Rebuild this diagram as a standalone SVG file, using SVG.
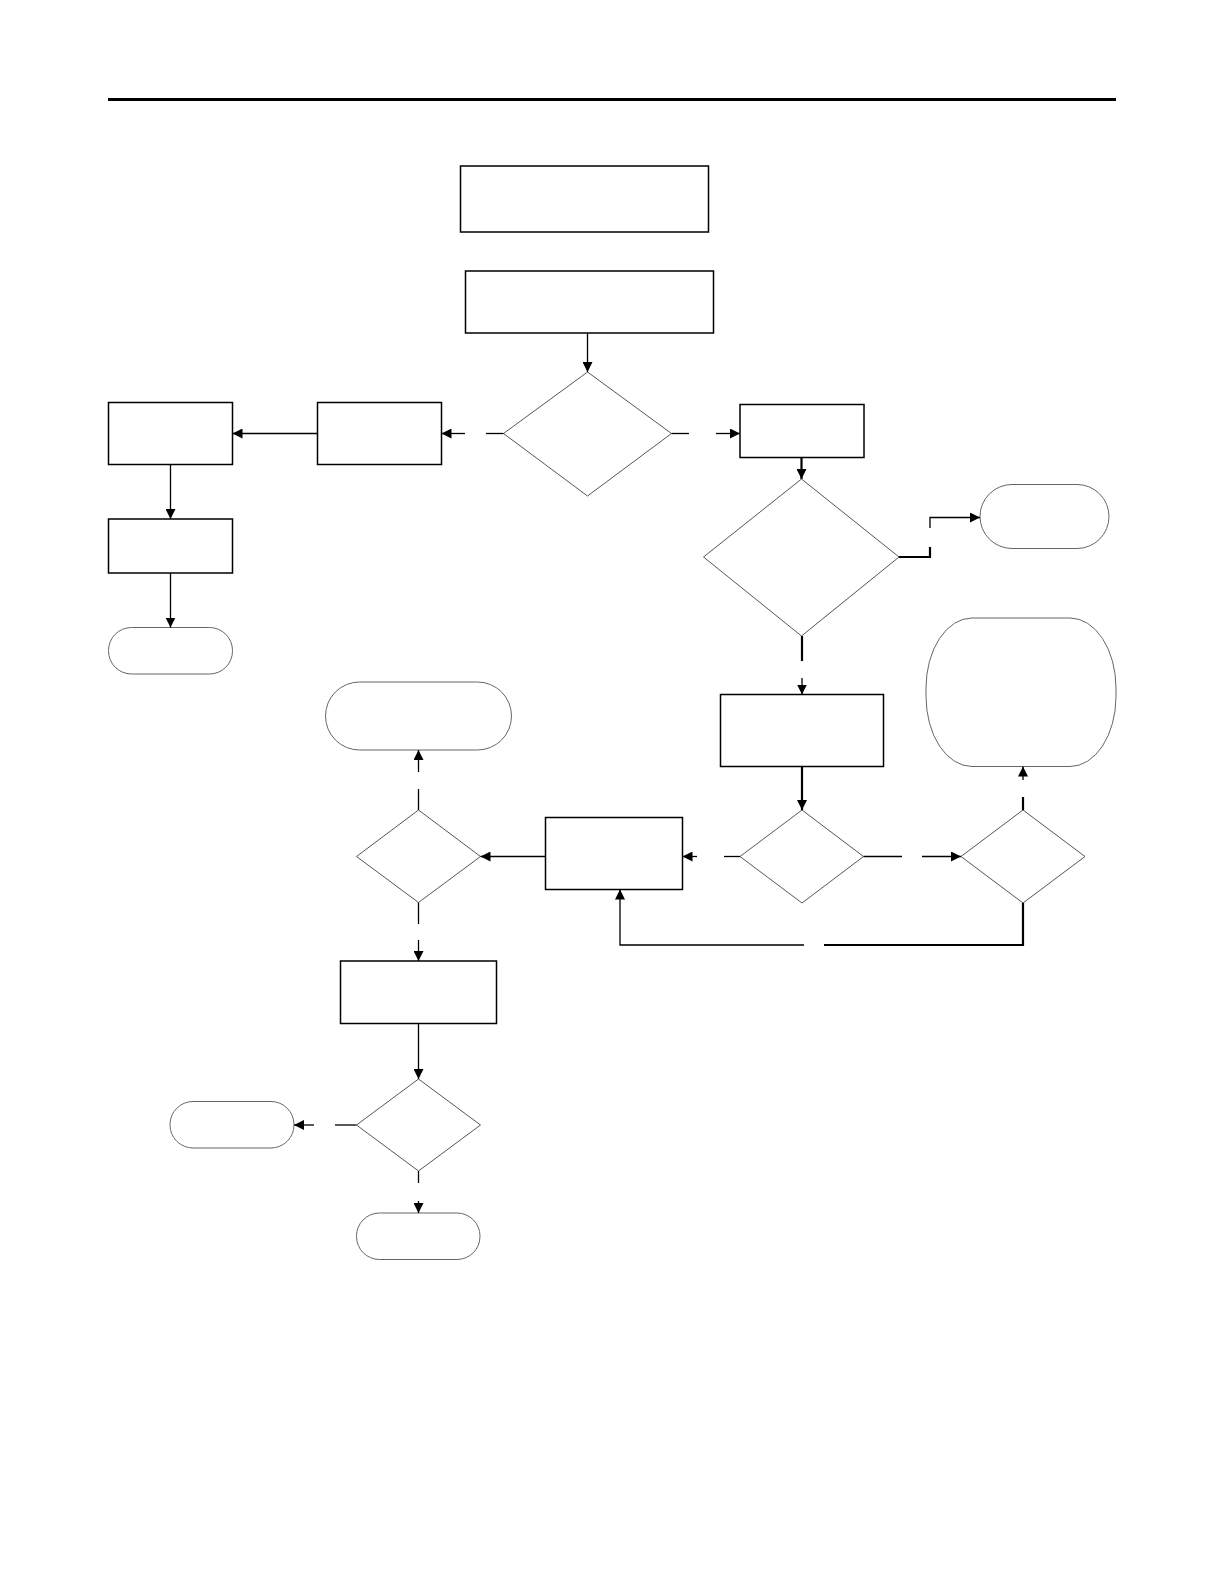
<svg xmlns="http://www.w3.org/2000/svg" width="1224" height="1584" viewBox="0 0 1224 1584">
<defs>
<marker id="ah" viewBox="0 0 10 10" refX="10" refY="5" markerWidth="10" markerHeight="10" markerUnits="userSpaceOnUse" orient="auto">
<path d="M0,0 L10,5 L0,10 z" fill="#000"/>
</marker>
<style>
.box{fill:#fff;stroke:#000;stroke-width:1.5}
.dia{fill:#fff;stroke:#555;stroke-width:1}
.term{fill:#fff;stroke:#666;stroke-width:1}
.c{fill:none;stroke:#000;stroke-width:1.3}
.ct{fill:none;stroke:#000;stroke-width:2.2}
</style>
</defs>
<rect width="1224" height="1584" fill="#fff"/>
<line x1="108" y1="99.5" x2="1116" y2="99.5" stroke="#000" stroke-width="3"/>

<g id="n1"><rect class="box" x="460.5" y="166" width="248" height="66"/></g>
<g id="n2"><rect class="box" x="465.5" y="271" width="248" height="62"/></g>
<g id="d1"><polygon class="dia" points="587.5,372 671.5,433.5 587.5,496 503.5,433.5"/></g>
<g id="nL2"><rect class="box" x="317.5" y="402.5" width="124" height="62"/></g>
<g id="nL1"><rect class="box" x="108.5" y="402.5" width="124" height="62"/></g>
<g id="nL3"><rect class="box" x="108.5" y="519" width="124" height="54"/></g>
<g id="tL"><rect class="term" x="108.5" y="627.5" width="124" height="46.5" rx="23" ry="23"/></g>
<g id="nR1"><rect class="box" x="740" y="404.5" width="124" height="53"/></g>
<g id="d2"><polygon class="dia" points="801.5,479 899,557 801.5,636 703.5,557"/></g>
<g id="tR1"><rect class="term" x="980" y="484.5" width="129" height="64" rx="32" ry="32"/></g>
<g id="tR3"><rect class="term" x="926" y="618" width="190" height="148.5" rx="46" ry="70"/></g>
<g id="nR2"><rect class="box" x="720.5" y="694.5" width="163" height="72"/></g>
<g id="d3"><polygon class="dia" points="802,810 863.5,856.5 802,903 740,856.5"/></g>
<g id="d4"><polygon class="dia" points="1023,810 1085,856.5 1023,903 961,856.5"/></g>
<g id="nM2"><rect class="box" x="545.5" y="817.5" width="137" height="72"/></g>
<g id="d5"><polygon class="dia" points="418.5,810 480.5,856.5 418.5,902.5 356.5,856.5"/></g>
<g id="tM1"><rect class="term" x="325.5" y="682" width="186" height="68" rx="34" ry="34"/></g>
<g id="nM3"><rect class="box" x="340.5" y="961" width="156" height="62.5"/></g>
<g id="d6"><polygon class="dia" points="418.5,1079 480.5,1125 418.5,1171 356.5,1125"/></g>
<g id="tL4"><rect class="term" x="170" y="1101.5" width="124" height="46.5" rx="23" ry="23"/></g>
<g id="tB"><rect class="term" x="356.5" y="1213" width="123.5" height="46.5" rx="23" ry="23"/></g>

<g id="connectors">
<line class="c" x1="587.5" y1="333" x2="587.5" y2="372" marker-end="url(#ah)"/>
<line class="c" x1="503.5" y1="433.5" x2="486" y2="433.5"/>
<line class="c" x1="465" y1="433.5" x2="441.5" y2="433.5" marker-end="url(#ah)"/>
<line class="c" x1="317.5" y1="433.5" x2="232.5" y2="433.5" marker-end="url(#ah)"/>
<line class="c" x1="170.5" y1="464.5" x2="170.5" y2="519" marker-end="url(#ah)"/>
<line class="c" x1="170.5" y1="573" x2="170.5" y2="627.5" marker-end="url(#ah)"/>
<line class="c" x1="671.5" y1="433.5" x2="689" y2="433.5"/>
<line class="c" x1="716" y1="433.5" x2="740" y2="433.5" marker-end="url(#ah)"/>
<line class="ct" x1="801.5" y1="457.5" x2="801.5" y2="479" marker-end="url(#ah)"/>
<polyline class="ct" points="899,557 930,557 930,547"/>
<polyline class="c" points="930,528 930,517.5 980,517.5" marker-end="url(#ah)"/>
<line class="ct" x1="802" y1="636" x2="802" y2="661"/>
<line class="c" x1="802" y1="678" x2="802" y2="694.5" marker-end="url(#ah)"/>
<line class="ct" x1="802" y1="766.5" x2="802" y2="810" marker-end="url(#ah)"/>
<line class="c" x1="740" y1="856.5" x2="724" y2="856.5"/>
<line class="c" x1="697" y1="856.5" x2="682.5" y2="856.5" marker-end="url(#ah)"/>
<line class="c" x1="863.5" y1="856.5" x2="902" y2="856.5"/>
<line class="c" x1="922" y1="856.5" x2="961" y2="856.5" marker-end="url(#ah)"/>
<line class="ct" x1="1023" y1="810" x2="1023" y2="797"/>
<line class="c" x1="1023" y1="780" x2="1023" y2="766.5" marker-end="url(#ah)"/>
<polyline class="ct" points="1023,903 1023,945 824,945"/>
<polyline class="c" points="804,945 620,945 620,889.5" marker-end="url(#ah)"/>
<line class="c" x1="545.5" y1="856.5" x2="480.5" y2="856.5" marker-end="url(#ah)"/>
<line class="c" x1="418.5" y1="810" x2="418.5" y2="789"/>
<line class="c" x1="418.5" y1="772" x2="418.5" y2="750" marker-end="url(#ah)"/>
<line class="c" x1="418.5" y1="902.5" x2="418.5" y2="924"/>
<line class="c" x1="418.5" y1="940" x2="418.5" y2="961" marker-end="url(#ah)"/>
<line class="c" x1="418.5" y1="1023.5" x2="418.5" y2="1079" marker-end="url(#ah)"/>
<line class="c" x1="356.5" y1="1125" x2="335" y2="1125"/>
<line class="c" x1="314" y1="1125" x2="294" y2="1125" marker-end="url(#ah)"/>
<line class="c" x1="418.5" y1="1171" x2="418.5" y2="1183"/>
<line class="c" x1="418.5" y1="1201" x2="418.5" y2="1213" marker-end="url(#ah)"/>
</g>
</svg>
